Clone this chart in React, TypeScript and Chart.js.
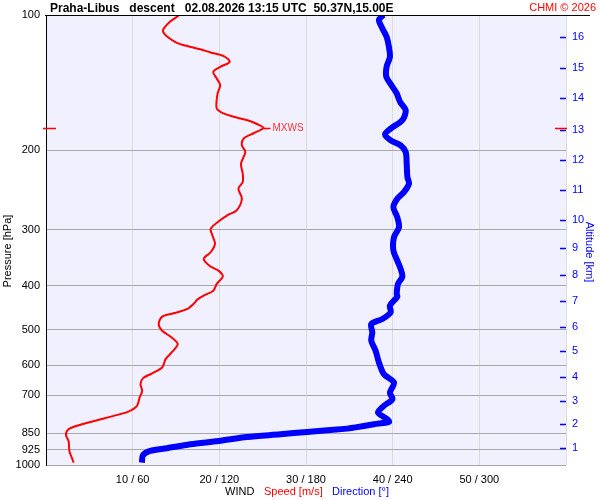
import React, { useEffect, useRef } from 'react';
import { Chart, registerables } from 'chart.js';

Chart.register(...registerables);

// wind speed profile [m/s] vs pressure [hPa]
const speedPressure = [
  100, 103.5, 107.1, 108.9, 111.8, 115.3, 117.2, 119.2, 121.1, 123.4,
  127.1, 130.4, 133.8, 138.4, 143.2, 149.4, 161.4, 165.5, 169.0, 172.2,
  174.9, 178.2, 182.9, 188.2, 194.8, 201.6, 214.0, 225.2, 235.1, 243.2,
  256.0, 271.9, 277.5, 287.7, 298.6, 309.0, 322.5, 336.7, 348.3, 362.3,
  369.9, 380.8, 395.9, 409.8, 420.4, 429.8, 435.1, 450.0, 460.2, 468.1,
  486.0, 503.0, 520.6, 538.5, 562.3, 581.7, 607.3, 626.2, 641.2, 661.2,
  684.3, 708.1, 738.9, 760.9, 777.8, 795.2, 814.6, 832.8, 857.5, 884.4,
  930.7, 955.0, 988.3,
];
const speedValues = [
  15.4, 14.3, 13.6, 13.5, 14.0, 15.1, 16.3, 17.8, 19.0, 20.5,
  21.2, 20.1, 19.3, 19.7, 20.1, 19.8, 19.7, 20.5, 22.0, 23.6,
  24.4, 25.1, 24.0, 22.8, 22.6, 23.0, 22.5, 22.7, 22.7, 22.2,
  22.6, 22.0, 21.1, 19.9, 19.0, 19.2, 19.5, 19.0, 18.2, 19.0,
  19.9, 20.4, 19.7, 19.3, 18.2, 17.4, 17.2, 16.3, 14.7, 13.4,
  13.0, 13.4, 14.5, 15.2, 14.5, 13.8, 13.4, 12.2, 11.2, 10.9,
  11.1, 10.8, 10.5, 9.5, 7.8, 5.9, 3.9, 2.6, 2.3, 2.6,
  2.7, 2.9, 3.2,
];

// wind direction profile [deg] vs pressure [hPa]
const dirPressure = [
  100, 102.6, 107.1, 111.8, 117.7, 123.9, 130.4, 137.2, 143.2, 149.4,
  156.0, 162.8, 171.3, 178.8, 184.1, 189.9, 194.8, 201.6, 214.0, 229.2,
  237.1, 247.5, 256.0, 267.3, 281.4, 296.2, 311.7, 333.8, 351.4, 366.6,
  381.4, 395.9, 416.8, 422.6, 442.4, 457.9, 473.7, 486.0, 507.4, 529.5,
  557.4, 591.9, 628.1, 655.8, 690.3, 714.0, 738.9, 764.8, 791.1, 802.2,
  811.7, 826.0, 830.2, 844.4, 854.5, 866.4, 884.4, 899.5, 917.9, 930.7,
  951.5, 988.3,
];
const dirValues = [
  233.5, 230.5, 232.9, 235.8, 237.4, 238.1, 235.8, 235.6, 239.1, 242.8,
  245.1, 249.0, 246.7, 238.6, 234.7, 238.6, 245.5, 249.0, 249.7, 250.2,
  251.3, 247.8, 243.2, 240.5, 243.2, 244.4, 240.9, 240.5, 243.2, 245.5,
  246.7, 243.7, 242.8, 243.2, 238.1, 238.6, 232.9, 225.2, 225.9, 225.2,
  228.2, 230.5, 233.9, 240.9, 238.1, 239.8, 233.9, 229.8, 236.3, 237.4,
  227.0, 213.2, 208.6, 180.8, 162.3, 139.2, 119.5, 99.9, 83.7, 72.1,
  67.1, 66.4,
];

const pressureTicks = [100, 200, 300, 400, 500, 600, 700, 850, 925, 1000];
const speedTicks = [0, 10, 20, 30, 40, 50, 60];
const altitudeKm = [1, 2, 3, 4, 5, 6, 7, 8, 9, 10, 11, 12, 13, 14, 15, 16];
const altitudePressure = [915, 809, 720, 636, 559, 493, 431, 378, 329, 285, 245, 210, 180, 153, 131, 112];

const FONT = '"Liberation Sans", Arial, sans-serif';

const decorations = {
  id: 'decorations',
  beforeDraw(chart: any) {
    const { ctx, chartArea: a, width, height } = chart;
    ctx.save();
    ctx.fillStyle = '#FFFFFF';
    ctx.fillRect(0, 0, width, height);
    ctx.fillStyle = '#F0F0FF';
    ctx.fillRect(a.left, a.top, a.right - a.left, a.bottom - a.top);
    ctx.restore();
  },
  afterDraw(chart: any) {
    const { ctx, chartArea: a } = chart;
    const x = chart.scales.x;
    const y = chart.scales.y;
    ctx.save();

    // top frame line
    ctx.strokeStyle = '#000000';
    ctx.lineWidth = 1;
    ctx.beginPath();
    ctx.moveTo(a.left - 1, a.top + 0.5);
    ctx.lineTo(590, a.top + 0.5);
    ctx.stroke();

    // altitude tick marks
    ctx.strokeStyle = '#0000FF';
    ctx.lineWidth = 1.5;
    altitudePressure.forEach((p) => {
      const py = Math.round(y.getPixelForValue(p)) + 0.5;
      ctx.beginPath();
      ctx.moveTo(a.right - 6, py);
      ctx.lineTo(a.right, py);
      ctx.stroke();
    });

    // max wind marker
    let iMax = 0;
    speedValues.forEach((v, i) => { if (v > speedValues[iMax]) iMax = i; });
    const mx = x.getPixelForValue(speedValues[iMax]);
    const my = Math.round(y.getPixelForValue(speedPressure[iMax])) + 0.5;
    ctx.strokeStyle = '#FF0000';
    ctx.lineWidth = 1.5;
    ctx.beginPath();
    ctx.moveTo(a.left - 3, my); ctx.lineTo(a.left + 10, my);
    ctx.moveTo(a.right - 11, my); ctx.lineTo(a.right + 1, my);
    ctx.moveTo(mx, my); ctx.lineTo(mx + 7, my);
    ctx.stroke();
    ctx.fillStyle = '#FF3333';
    ctx.font = `10px ${FONT}`;
    ctx.textBaseline = 'middle';
    ctx.textAlign = 'left';
    ctx.fillText('MXWS', mx + 9, my);

    // header
    ctx.textBaseline = 'alphabetic';
    ctx.fillStyle = '#000000';
    ctx.font = `bold 12px ${FONT}`;
    ctx.fillText('Praha-Libus   descent   02.08.2026 13:15 UTC  50.37N,15.00E', 50, 12);
    ctx.fillStyle = '#FF0000';
    ctx.font = `11px ${FONT}`;
    ctx.textAlign = 'right';
    ctx.fillText('CHMI \u00A9 2026', 596, 11);

    // bottom axis title
    ctx.textAlign = 'left';
    ctx.fillStyle = '#000000';
    ctx.fillText('WIND', 225, 495);
    ctx.fillStyle = '#FF0000';
    ctx.fillText('Speed [m/s]', 264, 495);
    ctx.fillStyle = '#0000FF';
    ctx.fillText('Direction [\u00B0]', 332, 495);

    // vertical axis titles
    ctx.textAlign = 'center';
    ctx.textBaseline = 'middle';
    ctx.save();
    ctx.translate(8, 251);
    ctx.rotate(-Math.PI / 2);
    ctx.fillStyle = '#000000';
    ctx.fillText('Pressure [hPa]', 0, 0);
    ctx.restore();
    ctx.save();
    ctx.translate(589, 252);
    ctx.rotate(Math.PI / 2);
    ctx.fillStyle = '#0000FF';
    ctx.fillText('Altitude [km]', 0, 0);
    ctx.restore();

    ctx.restore();
  },
};

export default function App() {
  const canvasRef = useRef<HTMLCanvasElement>(null);
  const chartRef = useRef<Chart | null>(null);

  useEffect(() => {
    if (!canvasRef.current) return;
    if (chartRef.current) chartRef.current.destroy();

    chartRef.current = new Chart(canvasRef.current, {
      type: 'scatter',
      data: {
        datasets: [
          {
            label: 'Direction',
            data: dirValues.map((d, i) => ({ x: d, y: dirPressure[i] })),
            xAxisID: 'xDir',
            yAxisID: 'y',
            showLine: true,
            borderColor: '#0000FF',
            borderWidth: 6,
            pointRadius: 0,
            tension: 0.3,
          },
          {
            label: 'Speed',
            data: speedValues.map((s, i) => ({ x: s, y: speedPressure[i] })),
            xAxisID: 'x',
            yAxisID: 'y',
            showLine: true,
            borderColor: '#FF0000',
            borderWidth: 2,
            pointRadius: 0,
            tension: 0.3,
          },
        ],
      },
      options: {
        responsive: false,
        animation: false,
        events: [],
        layout: { padding: { top: 15, left: 0, right: 0, bottom: 0 } },
        plugins: { legend: { display: false }, tooltip: { enabled: false } },
        scales: {
          x: {
            type: 'linear',
            position: 'bottom',
            min: 0,
            max: 60,
            afterBuildTicks: (s: any) => { s.ticks = speedTicks.map((v) => ({ value: v })); },
            afterFit: (s: any) => { s.height = 35; },
            grid: { color: '#DCDCDC', drawTicks: false },
            border: { display: false },
            ticks: {
              padding: 8,
              color: '#000000',
              font: { size: 11, family: FONT },
              autoSkip: false,
              maxRotation: 0,
              callback: (v: any) => (v === 0 || v === 60 ? '' : `${v} / ${v * 6}`),
            },
          },
          xDir: { type: 'linear', min: 0, max: 360, display: false },
          y: {
            type: 'logarithmic',
            position: 'left',
            reverse: true,
            min: 100,
            max: 1000,
            afterBuildTicks: (s: any) => { s.ticks = pressureTicks.map((v) => ({ value: v })); },
            afterFit: (s: any) => { s.width = 46; },
            grid: { color: '#A8A8A8', drawTicks: false },
            border: { display: true, color: '#000000', width: 1 },
            ticks: {
              padding: 6,
              color: '#000000',
              font: { size: 11, family: FONT },
              autoSkip: false,
              callback: (v: any) => String(v),
            },
          },
          y2: {
            type: 'logarithmic',
            position: 'right',
            reverse: true,
            min: 100,
            max: 1000,
            afterBuildTicks: (s: any) => { s.ticks = altitudePressure.map((v) => ({ value: v })); },
            afterFit: (s: any) => { s.width = 34; },
            grid: { display: false, drawTicks: false },
            border: { display: false },
            ticks: {
              padding: 6,
              color: '#0000FF',
              font: { size: 11, family: FONT },
              autoSkip: false,
              callback: (_v: any, i: number) => String(altitudeKm[i]),
            },
          },
        },
      },
      plugins: [decorations],
    } as any);

    return () => { if (chartRef.current) chartRef.current.destroy(); };
  }, []);

  return (
    <div style={{ position: 'fixed', left: 0, top: 0, width: 600, height: 500, background: '#FFFFFF' }}>
      <canvas ref={canvasRef} width={600} height={500} />
    </div>
  );
}
